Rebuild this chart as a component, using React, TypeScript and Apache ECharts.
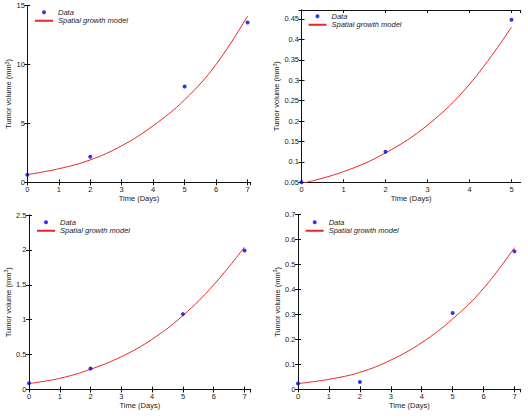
import React, { useEffect, useRef } from "react";
import * as echarts from "echarts";

const FONT = "'Liberation Sans', Arial, Helvetica, sans-serif";
const DATA_BLUE = "#0000e6";
const MODEL_RED = "#ee2424";

// Measured tumour volumes (mm^3) on the sampling days
const DAYS_7 = [0, 2, 5, 7];
const DAYS_5 = [0, 2, 5];
const VOL_A = [0.64, 2.17, 8.13, 13.55];
const VOL_B = [0.05, 0.125, 0.448];
const VOL_C = [0.09, 0.3, 1.08, 1.99];
const VOL_D = [0.023, 0.029, 0.306, 0.553];

// Spatial growth model curves, sampled daily
const MODEL_DAYS_7 = [0, 1, 2, 3, 4, 5, 6, 7];
const MODEL_DAYS_5 = [0, 1, 2, 3, 4, 5];
const MODEL_A = [0.65, 1.15, 1.9, 3.1, 4.8, 7.0, 10.0, 14.1];
const MODEL_B = [0.047, 0.076, 0.122, 0.19, 0.29, 0.43];
const MODEL_C = [0.086, 0.16, 0.29, 0.47, 0.72, 1.06, 1.5, 2.04];
const MODEL_D = [0.023, 0.04, 0.068, 0.117, 0.187, 0.282, 0.405, 0.568];

const X_NAME = "Time (Days)";
const Y_NAME = "Tumor volume (mm{sup|3})";
const LEGEND_DATA = "Data";
const LEGEND_MODEL = "Spatial growth model";

type Panel = {
  days: number[];
  vols: number[];
  modelDays: number[];
  model: number[];
  xMax: number;
  yMin: number;
  yMax: number;
  yStep: number;
  yHasMaxLabel: boolean;
  grid: { left: number; top: number; width: number; height: number };
  yNameGap: number;
  legend: { left: number; top: number };
};

const PANELS: Panel[] = [
  {
    days: DAYS_7, vols: VOL_A, modelDays: MODEL_DAYS_7, model: MODEL_A,
    xMax: 7.1, yMin: 0, yMax: 15, yStep: 5, yHasMaxLabel: true,
    grid: { left: 27.3, top: 5.5, width: 223.4, height: 176.8 },
    yNameGap: 5,
    legend: { left: 34, top: 8 },
  },
  {
    days: DAYS_5, vols: VOL_B, modelDays: MODEL_DAYS_5, model: MODEL_B,
    xMax: 5.22, yMin: 0.05, yMax: 0.472, yStep: 0.05, yHasMaxLabel: false,
    grid: { left: 301.5, top: 10, width: 219.2, height: 172.3 },
    yNameGap: 13,
    legend: { left: 307.5, top: 12 },
  },
  {
    days: DAYS_7, vols: VOL_C, modelDays: MODEL_DAYS_7, model: MODEL_C,
    xMax: 7.2, yMin: 0, yMax: 2.5, yStep: 0.5, yHasMaxLabel: true,
    grid: { left: 29, top: 215, width: 221.7, height: 174.5 },
    yNameGap: 9,
    legend: { left: 36, top: 218 },
  },
  {
    days: DAYS_7, vols: VOL_D, modelDays: MODEL_DAYS_7, model: MODEL_D,
    xMax: 7.2, yMin: 0, yMax: 0.7, yStep: 0.1, yHasMaxLabel: true,
    grid: { left: 298, top: 214.7, width: 222.7, height: 174.6 },
    yNameGap: 8.3,
    legend: { left: 304.7, top: 218 },
  },
];

const textBase = { fontFamily: FONT, fontSize: 7.5, color: "#1a1a1a" };

function buildOption() {
  const grid: any[] = [];
  const xAxis: any[] = [];
  const yAxis: any[] = [];
  const series: any[] = [];
  const legend: any[] = [];

  PANELS.forEach((p, i) => {
    grid.push({ ...p.grid, containLabel: false });
    const line = { show: true, lineStyle: { color: "#111", width: 1 } };
    const tick = { show: true, inside: true, length: 3, lineStyle: { color: "#111", width: 1 } };
    // bottom and top x axes (top one only mirrors the ticks)
    xAxis.push({
      type: "value", gridIndex: i, position: "bottom", min: 0, max: p.xMax, interval: 1,
      axisLine: line, axisTick: tick, splitLine: { show: false },
      axisLabel: { ...textBase, margin: 3, showMaxLabel: false },
      name: X_NAME, nameLocation: "middle", nameGap: 11,
      nameTextStyle: { ...textBase },
    });
    xAxis.push({
      type: "value", gridIndex: i, position: "top", min: 0, max: p.xMax, interval: 1,
      axisLine: line, axisTick: tick, splitLine: { show: false }, axisLabel: { show: false },
    });
    yAxis.push({
      type: "value", gridIndex: i, position: "left", min: p.yMin, max: p.yMax, interval: p.yStep,
      axisLine: line, axisTick: tick, splitLine: { show: false },
      axisLabel: { ...textBase, margin: 2.5, showMaxLabel: p.yHasMaxLabel },
      name: Y_NAME, nameLocation: "middle", nameGap: p.yNameGap,
      nameTextStyle: {
        ...textBase,
        rich: { sup: { fontFamily: FONT, fontSize: 5, color: "#1a1a1a", verticalAlign: "top", padding: [0, 0, 4, 0] } },
      },
    });
    yAxis.push({
      type: "value", gridIndex: i, position: "right", min: p.yMin, max: p.yMax, interval: p.yStep,
      axisLine: line, axisTick: tick, splitLine: { show: false }, axisLabel: { show: false },
    });

    series.push({
      name: LEGEND_MODEL, type: "line", xAxisIndex: 2 * i, yAxisIndex: 2 * i,
      data: p.modelDays.map((d, k) => [d, p.model[k]]),
      smooth: 0.4, showSymbol: false, symbol: "none",
      lineStyle: { color: MODEL_RED, width: 1 }, itemStyle: { color: MODEL_RED },
      z: 2,
    });
    series.push({
      name: LEGEND_DATA, type: "scatter", xAxisIndex: 2 * i, yAxisIndex: 2 * i,
      data: p.days.map((d, k) => [d, p.vols[k]]),
      symbol: "circle", symbolSize: 4, clip: false,
      itemStyle: { color: DATA_BLUE }, z: 3,
    });

    legend.push({
      orient: "vertical", left: p.legend.left, top: p.legend.top,
      data: [
        { name: LEGEND_DATA },
        // plain line sample, no marker in the middle
        { name: LEGEND_MODEL, itemStyle: { color: "rgba(0,0,0,0)", borderWidth: 0, opacity: 0 } },
      ],
      itemWidth: 18, itemHeight: 4, itemGap: 0,
      padding: 0, selectedMode: false,
      textStyle: { ...textBase, fontStyle: "italic", lineHeight: 8.5 },
    });
  });

  return { animation: false, backgroundColor: "#fff", grid, xAxis, yAxis, series, legend };
}

export default function App() {
  const ref = useRef<HTMLDivElement>(null);
  useEffect(() => {
    if (!ref.current) return;
    const chart = echarts.init(ref.current, undefined, { renderer: "svg" });
    chart.setOption(buildOption() as any);
    return () => chart.dispose();
  }, []);
  return (
    <div
      ref={ref}
      style={{ position: "fixed", left: 0, top: 0, width: 528, height: 418, background: "#fff" }}
    />
  );
}
